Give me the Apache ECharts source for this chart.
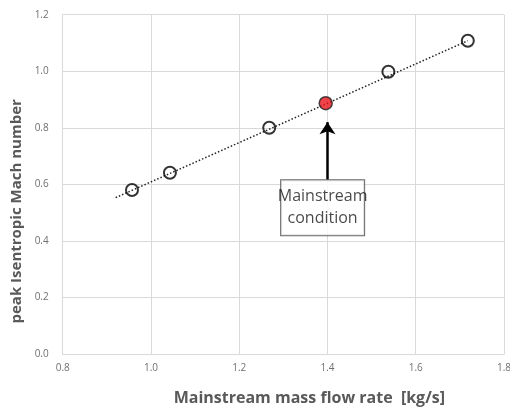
<!DOCTYPE html>
<html><head><meta charset="utf-8">
<script src="https://cdn.jsdelivr.net/npm/echarts@6/dist/echarts.min.js"></script>
<style>html,body{margin:0;padding:0;background:#fff}#c{width:510px;height:409px}</style>
</head><body><div id="c"></div>
<script>
var flowRate = [0.957, 1.043, 1.268, 1.538, 1.718];
var machNumber = [0.580, 0.641, 0.800, 0.998, 1.108];
var mainFlow = [1.396];
var mainMach = [0.887];
var trendX = [0.92, 1.718];
var trendY = [0.553, 1.108];
var xTicks = [0.8, 1.0, 1.2, 1.4, 1.6, 1.8];
var yTicks = [0.0, 0.2, 0.4, 0.6, 0.8, 1.0, 1.2];
var noteText = ['Mainstream', 'condition'];
var notePos = [1.389, 0.517];
var arrowFrom = [1.4, 0.617];
var arrowTo = [1.4, 0.82];

var chart = echarts.init(document.getElementById('c'));
var labelFont = {color:'#707070', fontSize:10, fontFamily:'Open Sans'};
chart.setOption({
  animation:false,
  grid:{left:62.7, right:6, top:14.7, bottom:55, containLabel:false, outerBoundsMode:'none'},
  xAxis:{type:'value', min:xTicks[0], max:xTicks[xTicks.length-1], interval:0.2,
    name:'Mainstream mass flow rate  [kg/s]', nameLocation:'middle', nameGap:36,
    nameTextStyle:{color:'#595959', fontSize:16, fontWeight:'bold', fontFamily:'Open Sans', padding:[0,0,0,52]},
    axisLine:{lineStyle:{color:'#d9d9d9'}}, axisTick:{show:false},
    splitLine:{lineStyle:{color:'#d9d9d9'}},
    axisLabel:Object.assign({formatter:function(v){return v.toFixed(1);}, margin:9}, labelFont)},
  yAxis:{type:'value', min:yTicks[0], max:yTicks[yTicks.length-1], interval:0.2,
    name:'peak Isentropic Mach number', nameLocation:'middle', nameGap:38,
    nameTextStyle:{color:'#595959', fontSize:15, fontWeight:'bold', fontFamily:'Open Sans', padding:[0,54,0,0]},
    axisLine:{show:true, lineStyle:{color:'#d9d9d9'}}, axisTick:{show:false},
    splitLine:{lineStyle:{color:'#d9d9d9'}},
    axisLabel:Object.assign({formatter:function(v){return v.toFixed(1);}, margin:14}, labelFont)},
  series:[
    {type:'line', data:trendX.map(function(x,i){return [x,trendY[i]];}), symbol:'none',
     lineStyle:{color:'#222', width:1.5, type:[1.5,2]}, z:2,
     markLine:{silent:true, symbol:['none','arrow'], symbolSize:[12,12],
       lineStyle:{color:'#000', width:2.5, type:'solid'}, label:{show:false},
       data:[[{coord:arrowFrom},{coord:arrowTo}]]}},
    {type:'scatter', data:flowRate.map(function(x,i){return [x,machNumber[i]];}),
     symbol:'circle', symbolSize:12,
     itemStyle:{color:'rgba(255,255,255,0)', borderColor:'#000', borderWidth:2}, z:3},
    {type:'scatter', data:mainFlow.map(function(x,i){return [x,mainMach[i]];}),
     symbol:'circle', symbolSize:13,
     itemStyle:{color:'#e8141c', borderColor:'#222', borderWidth:1.5}, z:4},
    {type:'scatter', data:[notePos], symbolSize:0, z:5,
     label:{show:true, position:'inside', formatter:noteText.join('\n'),
       color:'#1a1a1a', fontSize:16, lineHeight:22, fontFamily:'Open Sans',
       backgroundColor:'#fff', borderColor:'#444', borderWidth:1,
       width:83, height:55, align:'center', verticalAlign:'middle', padding:0, overflow:'none'}}
  ]
});
</script></body></html>
